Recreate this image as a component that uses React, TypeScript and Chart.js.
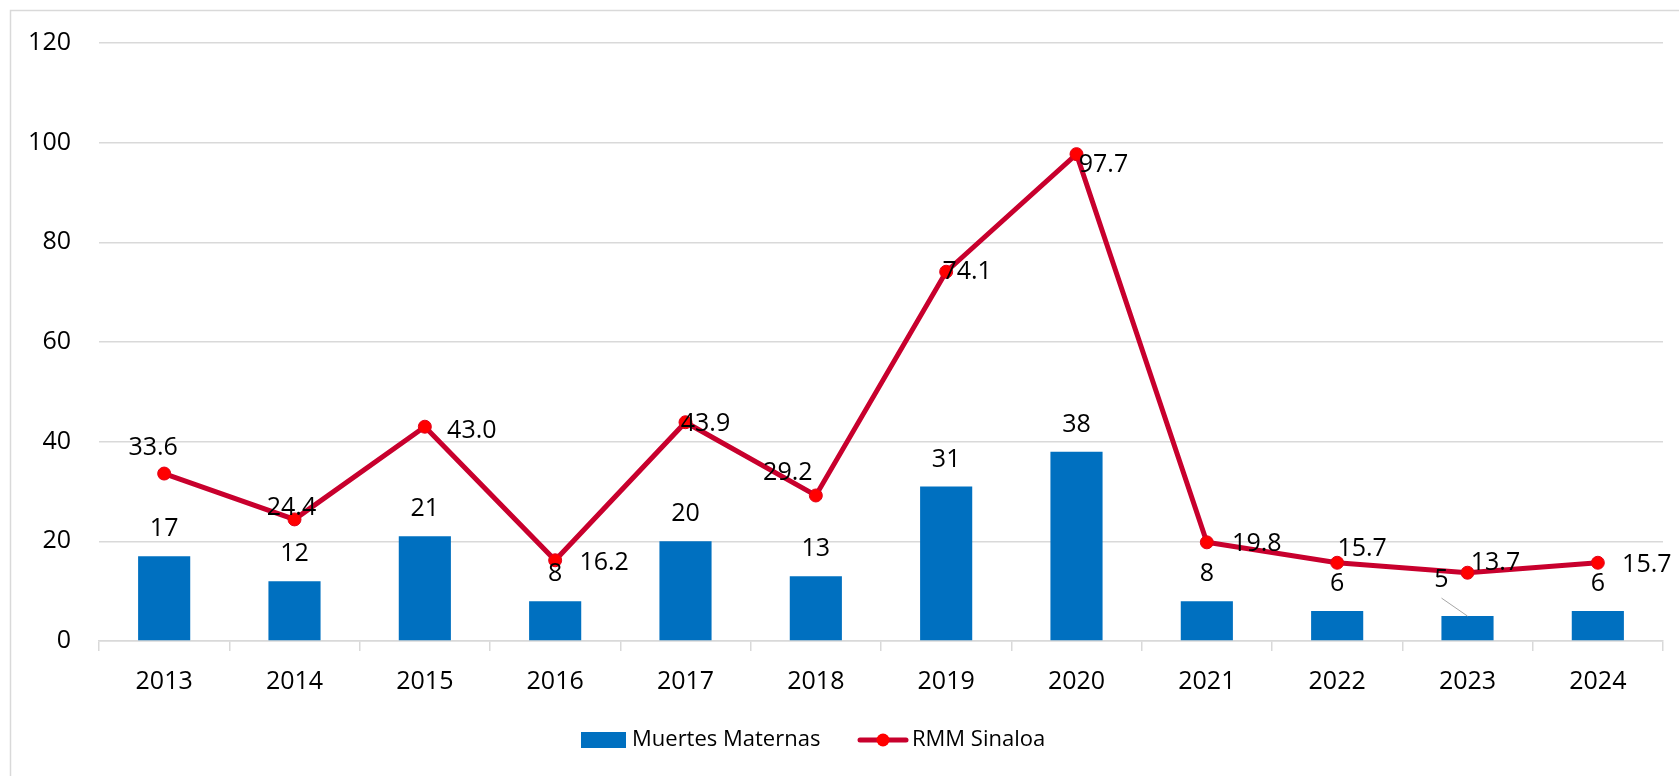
import React, { useEffect, useRef } from "react";
import { Chart, registerables } from "chart.js";

Chart.register(...registerables);

const years = ["2013", "2014", "2015", "2016", "2017", "2018", "2019", "2020", "2021", "2022", "2023", "2024"];
const muertesMaternas = [17, 12, 21, 8, 20, 13, 31, 38, 8, 6, 5, 6];
const rmmSinaloa = [33.6, 24.4, 43.0, 16.2, 43.9, 29.2, 74.1, 97.7, 19.8, 15.7, 13.7, 15.7];
const yMin = 0;
const yMax = 120;
const yStep = 20;

// label placement (offset of label centre from the mark), not data
const lineLabelDx = [-11, -3, 47, 49, 20, -28, 21, 27, 50, 25, 28, 49];
const lineLabelDy = [-26, -12, 4, 3, 2, -23, 0, 11, 2, -14, -10, 2];
const barLabelDx = [0, 0, 0, 0, 0, 0, 0, 0, 0, 0, -26, 0];
const barLabelDy = [-27, -27, -27, -27, -27, -27, -27, -27, -27, -27, -36, -27];

const FONT = '"Open Sans", sans-serif';
const BAR_COLOR = "#0070C0";
const LINE_COLOR = "#C8002D";
const POINT_COLOR = "#FF0000";
const GRID_COLOR = "#D9D9D9";

const decorPlugin = {
  id: "decor",
  beforeDraw(chart: any) {
    const ctx = chart.ctx;
    ctx.save();
    ctx.strokeStyle = GRID_COLOR;
    ctx.lineWidth = 1.5;
    ctx.beginPath();
    ctx.moveTo(10.5, 776);
    ctx.lineTo(10.5, 10.5);
    ctx.lineTo(1679, 10.5);
    ctx.stroke();
    ctx.restore();
  },
  afterDatasetsDraw(chart: any) {
    const ctx = chart.ctx;
    ctx.save();
    ctx.font = `25px ${FONT}`;
    ctx.fillStyle = "#000";
    ctx.textAlign = "center";
    ctx.textBaseline = "middle";
    const barMeta = chart.getDatasetMeta(0);
    barMeta.data.forEach((el: any, i: number) => {
      const x = el.x + barLabelDx[i];
      const y = el.y + barLabelDy[i];
      if (barLabelDx[i] !== 0) {
        ctx.save();
        ctx.strokeStyle = "#A6A6A6";
        ctx.lineWidth = 1;
        ctx.beginPath();
        ctx.moveTo(x, y + 18);
        ctx.lineTo(el.x, el.y);
        ctx.stroke();
        ctx.restore();
      }
      ctx.fillText(String(muertesMaternas[i]), x, y);
    });
    const lineMeta = chart.getDatasetMeta(1);
    lineMeta.data.forEach((el: any, i: number) => {
      ctx.fillText(rmmSinaloa[i].toFixed(1), el.x + lineLabelDx[i], el.y + lineLabelDy[i]);
    });
    ctx.restore();
  },
  afterDraw(chart: any) {
    const ctx = chart.ctx;
    ctx.save();
    const cy = 740;
    ctx.fillStyle = BAR_COLOR;
    ctx.fillRect(581, 732, 45, 16);
    ctx.font = `22px ${FONT}`;
    ctx.fillStyle = "#000";
    ctx.textAlign = "left";
    ctx.textBaseline = "middle";
    ctx.fillText(chart.data.datasets[0].label, 632, cy);
    ctx.strokeStyle = LINE_COLOR;
    ctx.lineWidth = 5;
    ctx.lineCap = "round";
    ctx.beginPath();
    ctx.moveTo(860, cy);
    ctx.lineTo(906, cy);
    ctx.stroke();
    ctx.fillStyle = POINT_COLOR;
    ctx.beginPath();
    ctx.arc(883, cy, 6.5, 0, Math.PI * 2);
    ctx.fill();
    ctx.fillStyle = "#000";
    ctx.fillText(chart.data.datasets[1].label, 912, cy);
    ctx.restore();
  },
};

export default function App() {
  const ref = useRef<HTMLCanvasElement | null>(null);
  useEffect(() => {
    if (!ref.current) return;
    const chart = new Chart(ref.current, {
      type: "bar",
      data: {
        labels: years,
        datasets: [
          {
            type: "bar",
            label: "Muertes Maternas",
            data: muertesMaternas,
            backgroundColor: BAR_COLOR,
            barPercentage: 0.4,
            categoryPercentage: 1,
            order: 2,
          },
          {
            type: "line",
            label: "RMM Sinaloa",
            data: rmmSinaloa,
            borderColor: LINE_COLOR,
            borderWidth: 5,
            pointRadius: 6.5,
            pointBackgroundColor: POINT_COLOR,
            pointBorderColor: "#E0001A",
            pointBorderWidth: 1,
            tension: 0,
            order: 1,
          },
        ] as any,
      },
      options: {
        responsive: false,
        animation: false,
        layout: { padding: { left: 0, top: 41, right: 16, bottom: 75 } },
        plugins: {
          legend: { display: false },
          tooltip: { enabled: false },
        },
        scales: {
          x: {
            offset: true,
            grid: {
              display: true,
              offset: true,
              drawOnChartArea: false,
              drawTicks: true,
              tickLength: 10,
              color: GRID_COLOR,
              lineWidth: 1.5,
            },
            border: { display: true, color: GRID_COLOR, width: 1.5 },
            ticks: { color: "#000", font: { family: FONT, size: 25 }, padding: 16, maxRotation: 0 },
            afterFit: (s: any) => {
              s.height = 60;
            },
          },
          y: {
            min: yMin,
            max: yMax,
            ticks: { stepSize: yStep, color: "#000", font: { family: FONT, size: 25 }, padding: 28 },
            grid: { color: GRID_COLOR, lineWidth: 1.5, drawTicks: false },
            border: { display: false },
            afterFit: (s: any) => {
              s.width = 99;
            },
          },
        },
      },
      plugins: [decorPlugin],
    });
    return () => chart.destroy();
  }, []);
  return (
    <div style={{ position: "fixed", left: 0, top: 0, width: 1679, height: 776, background: "#fff" }}>
      <canvas ref={ref} width={1679} height={776} />
    </div>
  );
}
